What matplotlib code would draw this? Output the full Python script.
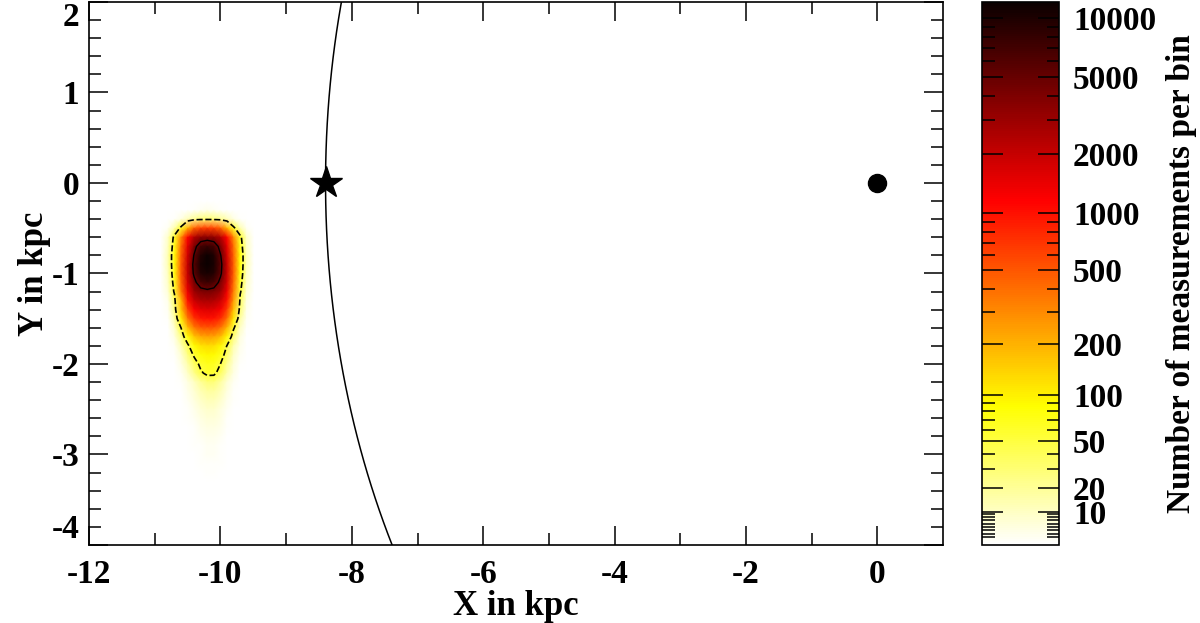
import numpy as np
import matplotlib
matplotlib.use("Agg")
import matplotlib.pyplot as plt
from matplotlib import colors, cm
from matplotlib.ticker import FixedLocator, NullFormatter

plt.rcParams["font.family"] = ["Liberation Serif", "DejaVu Serif"]
plt.rcParams["font.weight"] = "bold"
plt.rcParams["axes.unicode_minus"] = False

# bin centres of the 2D histogram (kpc)
x_bins = [-10.9, -10.8, -10.7, -10.6, -10.5, -10.4, -10.3, -10.2,
          -10.1, -10.0, -9.9, -9.8, -9.7, -9.6, -9.5]
y_bins = [-0.2, -0.3, -0.4, -0.5, -0.6, -0.7, -0.8, -0.9, -1.0, -1.1,
          -1.2, -1.3, -1.4, -1.5, -1.6, -1.7, -1.8, -1.9, -2.0, -2.1,
          -2.2, -2.3, -2.4, -2.5, -2.6, -2.7, -2.8, -2.9, -3.0, -3.1,
          -3.2, -3.3, -3.4]

counts = [
    [0, 0, 0, 0, 0, 0, 0, 0, 0, 0, 0, 0, 0, 0, 0],
    [0, 0, 0, 0, 0, 1, 2, 3, 2, 1, 0, 0, 0, 0, 0],
    [0, 0, 1, 4, 12, 22, 28, 30, 28, 22, 12, 4, 1, 0, 0],
    [0, 2, 15, 60, 200, 450, 600, 650, 600, 450, 200, 60, 15, 2, 0],
    [1, 8, 60, 300, 1100, 2400, 3300, 3500, 3300, 2400, 1100, 300, 60, 8, 1],
    [1, 10, 70, 400, 1500, 4000, 6800, 8000, 6800, 4000, 1500, 400, 70, 10, 1],
    [1, 12, 80, 450, 1800, 5200, 9500, 11500, 10000, 5200, 1800, 450, 80, 12, 1],
    [1, 12, 80, 480, 2000, 5800, 10500, 12000, 10500, 5800, 2000, 480, 80, 12, 1],
    [1, 10, 75, 480, 2000, 5500, 9500, 10500, 9500, 5500, 2000, 480, 75, 10, 1],
    [1, 8, 65, 420, 1800, 4200, 6600, 7500, 6600, 4200, 1800, 420, 65, 8, 1],
    [1, 6, 55, 350, 1400, 3000, 3900, 4200, 3900, 3000, 1400, 350, 55, 6, 1],
    [0, 3, 35, 180, 1000, 1900, 2450, 2600, 2450, 1900, 1000, 250, 40, 4, 0],
    [0, 2, 25, 160, 600, 1200, 1500, 1600, 1550, 1250, 650, 170, 30, 3, 0],
    [0, 1, 15, 100, 350, 700, 930, 1000, 980, 760, 400, 110, 18, 2, 0],
    [0, 0, 8, 50, 170, 350, 470, 500, 490, 380, 190, 55, 10, 1, 0],
    [0, 0, 4, 25, 80, 160, 215, 230, 225, 175, 90, 28, 5, 0, 0],
    [0, 0, 2, 12, 40, 85, 115, 125, 122, 95, 48, 14, 3, 0, 0],
    [0, 0, 1, 7, 25, 55, 80, 90, 88, 68, 34, 9, 2, 0, 0],
    [0, 0, 0, 4, 15, 35, 58, 68, 66, 50, 22, 6, 1, 0, 0],
    [0, 0, 0, 2, 9, 24, 45, 58, 57, 38, 15, 4, 0, 0, 0],
    [0, 0, 0, 1, 4, 10, 20, 28, 28, 18, 7, 2, 0, 0, 0],
    [0, 0, 0, 0, 3, 7, 13, 18, 18, 12, 5, 1, 0, 0, 0],
    [0, 0, 0, 0, 2, 5, 9, 12, 12, 8, 3, 1, 0, 0, 0],
    [0, 0, 0, 0, 1, 3, 6, 8, 8, 5, 2, 0, 0, 0, 0],
    [0, 0, 0, 0, 1, 2, 4, 6, 6, 4, 1, 0, 0, 0, 0],
    [0, 0, 0, 0, 0, 1, 3, 4, 4, 3, 1, 0, 0, 0, 0],
    [0, 0, 0, 0, 0, 1, 2, 3, 3, 2, 0, 0, 0, 0, 0],
    [0, 0, 0, 0, 0, 1, 1, 2, 2, 1, 0, 0, 0, 0, 0],
    [0, 0, 0, 0, 0, 0, 1, 2, 2, 1, 0, 0, 0, 0, 0],
    [0, 0, 0, 0, 0, 0, 1, 1, 1, 1, 0, 0, 0, 0, 0],
    [0, 0, 0, 0, 0, 0, 0, 1, 1, 0, 0, 0, 0, 0, 0],
    [0, 0, 0, 0, 0, 0, 0, 0, 0, 0, 0, 0, 0, 0, 0],
    [0, 0, 0, 0, 0, 0, 0, 0, 0, 0, 0, 0, 0, 0, 0],
]

contour_outer = 50
contour_inner = 5000
r_sun = 8.4
sun_pos = [-8.4, 0.0]
gc_pos = [0.0, 0.0]

cbar_major = [10, 20, 50, 100, 200, 500, 1000, 2000, 5000, 10000]
cbar_minor = [2, 3, 4, 5, 6, 7, 8, 9, 30, 40, 60, 70, 80, 90,
              300, 400, 600, 700, 800, 900, 3000, 4000, 6000, 7000, 8000, 9000]

Z = np.array(counts, dtype=float)
X, Y = np.meshgrid(x_bins, y_bins)

# colour scale ~ log(N + 21)
norm = colors.FuncNorm((lambda v: np.log10(np.asarray(v) + 21.0),
                        lambda v: 10.0 ** np.asarray(v) - 21.0),
                       vmin=0, vmax=12000)
cmap = plt.get_cmap("hot_r")

fig = plt.figure(figsize=(12, 6.23), dpi=100)
ax = fig.add_axes([0.0742, 0.1252, 0.7117, 0.8716])
cax = fig.add_axes([0.8183, 0.1252, 0.0642, 0.8716])

ax.pcolormesh(X, Y, Z, shading="gouraud", cmap=cmap, norm=norm)
ax.contour(X, Y, Z, levels=[contour_outer], colors="k",
           linestyles="dashed", linewidths=1.2)
ax.contour(X, Y, Z, levels=[contour_inner], colors="k",
           linestyles="solid", linewidths=1.0)

t = np.linspace(0, 2 * np.pi, 721)
ax.plot(r_sun * np.cos(t), r_sun * np.sin(t), color="k", lw=1.1)
ax.plot(sun_pos[0], sun_pos[1], marker="*", ms=24, color="k", mec="k")
ax.plot(gc_pos[0], gc_pos[1], marker="o", ms=13, color="k")

ax.set_xlim(-12, 1)
ax.set_ylim(-4, 2)
ax.set_xticks([-12, -10, -8, -6, -4, -2, 0])
ax.set_xticks(np.arange(-11, 1, 2), minor=True)
ax.set_yticks([-4, -3, -2, -1, 0, 1, 2])
ax.set_yticks(np.arange(-4, 2.01, 0.2), minor=True)
ylabs = ax.set_yticklabels(["-4", "-3", "-2", "-1", "0", "1", "2"])
ylabs[0].set_va("bottom")
ylabs[-1].set_va("top")
ax.tick_params(which="both", direction="in", top=True, right=True,
               labelsize=24, width=1.1, pad=7)
ax.tick_params(which="major", length=14)
ax.tick_params(which="minor", length=8.5)
ax.tick_params(axis="x", pad=10)
for s in ax.spines.values():
    s.set_linewidth(1.2)
ax.set_xlabel("X in kpc", fontsize=25, fontweight="bold", labelpad=0)
ax.set_ylabel("Y in kpc", fontsize=25, fontweight="bold", labelpad=0)

sm = cm.ScalarMappable(norm=norm, cmap=cmap)
cb = fig.colorbar(sm, cax=cax)
cb.outline.set_linewidth(1.2)
cax.yaxis.set_major_locator(FixedLocator(cbar_major))
cax.yaxis.set_minor_locator(FixedLocator(cbar_minor))
cax.set_yticklabels([str(v) for v in cbar_major])
cax.yaxis.set_minor_formatter(NullFormatter())
cax.tick_params(which="both", direction="in", left=True, right=True,
                labelright=True, labelleft=False, labelsize=24, width=1.1, pad=10)
cax.tick_params(which="major", length=15)
cax.tick_params(which="minor", length=9)
cb.set_label("Number of measurements per bin", fontsize=24,
             fontweight="bold", labelpad=7)

fig.savefig("out.png", dpi=100)
